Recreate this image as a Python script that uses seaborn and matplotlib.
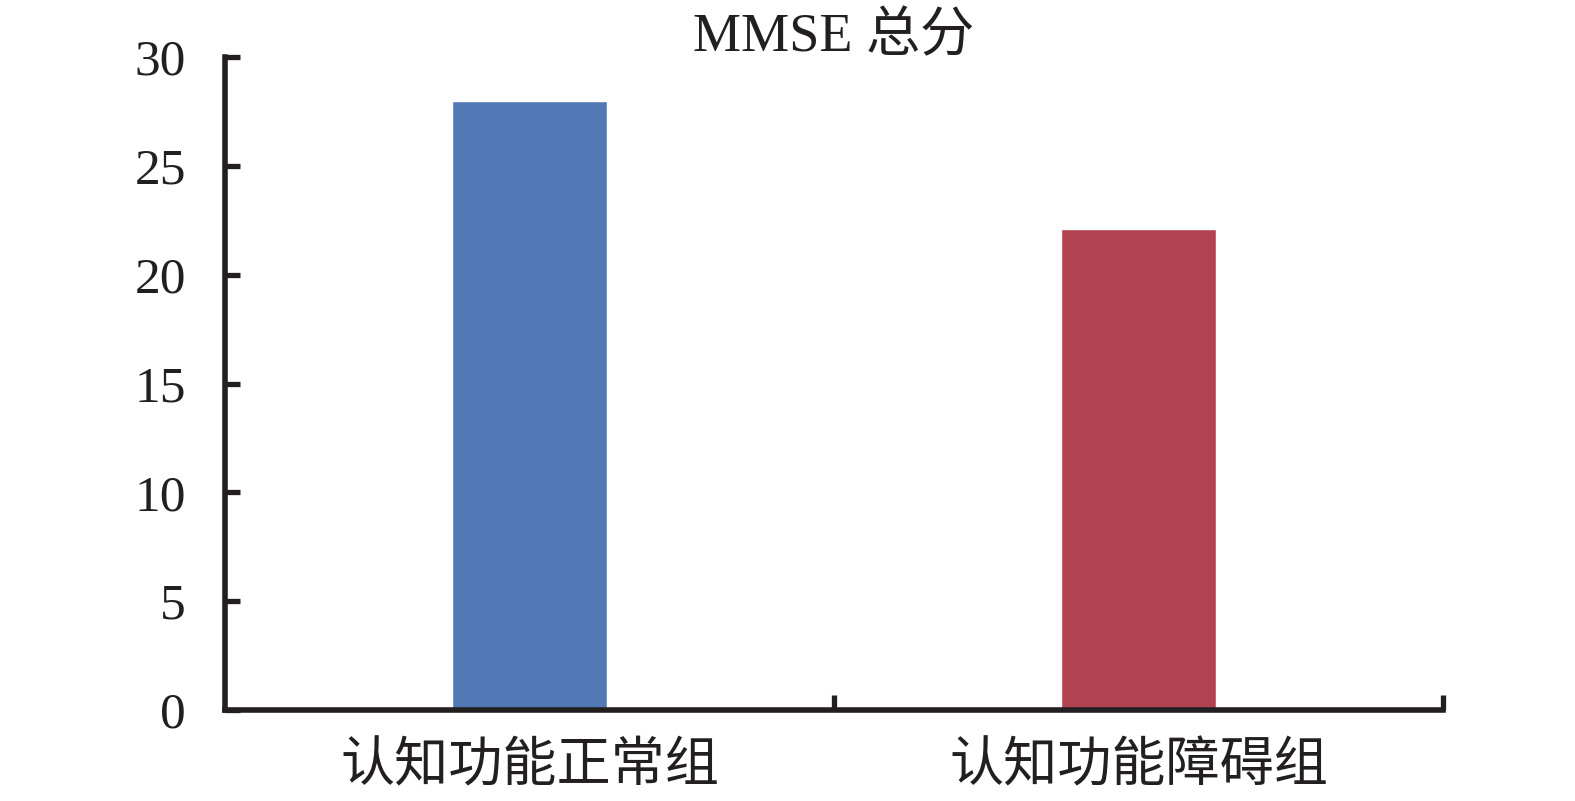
import matplotlib
matplotlib.use("Agg")
import matplotlib.pyplot as plt
import seaborn as sns
import pandas as pd
from matplotlib.ticker import FixedLocator

categories = ["认知功能正常组", "认知功能障碍组"]
values = [28.0, 22.1]
colors = ["#5079B5", "#B24151"]
yticks = [0, 5, 10, 15, 20, 25, 30]
title = "MMSE 总分"

sns.set_theme(style="white")
plt.rcParams['font.family'] = ['Liberation Serif', 'Noto Sans CJK SC', 'DejaVu Sans']

df = pd.DataFrame({"group": categories, "value": values})

W, H = 1575, 801
fig = plt.figure(figsize=(W / 100, H / 100), dpi=100)
ax = fig.add_axes([225 / W, 1 - 710 / H, (1443 - 225) / W, (710 - 57) / H])
sns.barplot(data=df, x="group", y="value", hue="group", palette=colors,
            width=0.256, saturation=1, legend=False, ax=ax)

ink = "#231F20"
ax.set_xlim(-0.5, 1.5)
ax.set_ylim(0, 30)
ax.set_yticks(yticks)
ax.set_xlabel("")
ax.set_ylabel("")
for s in ["top", "right"]:
    ax.spines[s].set_visible(False)
for s in ["left", "bottom"]:
    ax.spines[s].set_linewidth(4.0)
    ax.spines[s].set_color(ink)
    ax.spines[s].set_capstyle("projecting")

ax.tick_params(axis="y", direction="in", length=11, width=3.8, color=ink,
               labelsize=37, pad=28, labelcolor=ink, left=True)
ax.tick_params(axis="x", which="major", length=0, labelsize=39, pad=24, labelcolor=ink)
ax.xaxis.set_minor_locator(FixedLocator([0.5, 1.5]))
ax.tick_params(axis="x", which="minor", direction="in", length=11, width=3.8,
               color=ink, bottom=True)
ax.set_title(title, fontsize=39, pad=4, color=ink)

fig.savefig("out.png", dpi=100)
